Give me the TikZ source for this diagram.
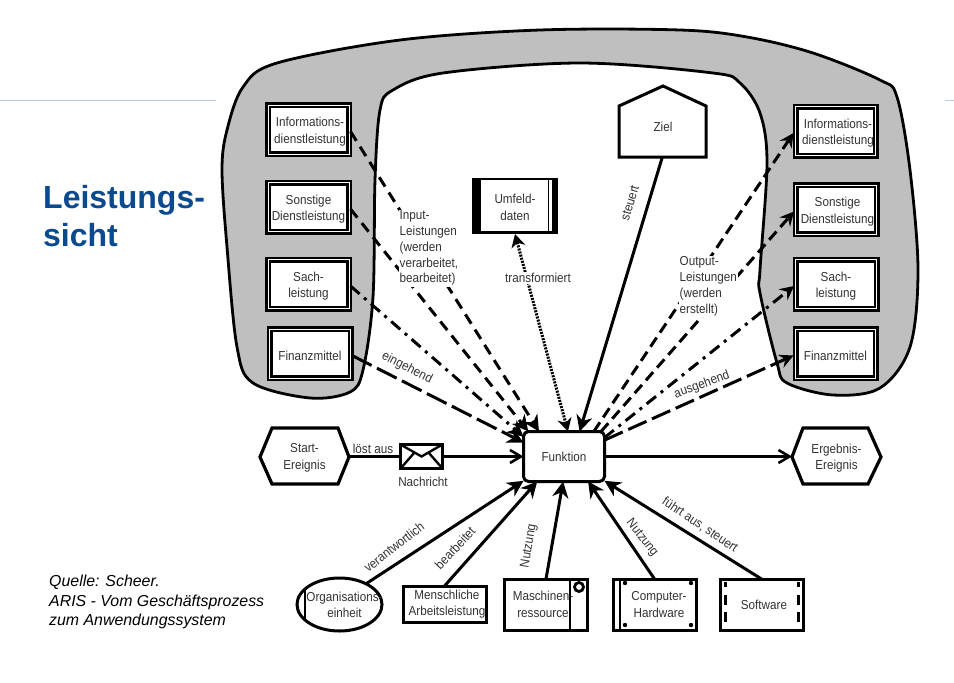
\documentclass[tikz,border=0pt]{standalone}
\usepackage{fontspec}
\setmainfont{Liberation Sans}
\newfontfamily\lblfont[FakeStretch=0.9]{Liberation Sans}
\usetikzlibrary{arrows.meta,shapes.geometric,calc}
\definecolor{txtgray}{HTML}{333333}
\definecolor{shade}{HTML}{BFBFBF}
\definecolor{ruleblue}{HTML}{B7CBE3}
\definecolor{headblue}{HTML}{0B4A8F}
\newcommand{\shft}[1]{\hspace*{#1pt}}
\tikzset{
  lbl/.style={font=\lblfont\fontsize{13}{16.6}\selectfont,text=txtgray,align=center,inner sep=0pt},
  frametop/.style={draw=black,line width=2.5pt,double=white,double distance=1pt,inner sep=0pt,outer sep=0pt},
  lstg/.style={lbl,fill=white,minimum width=84pt,minimum height=51pt,outer sep=0pt},
  conn/.style={line width=3pt,-{Stealth[length=16pt,width=16pt,inset=5pt]}},
  inA/.style={conn,dash pattern=on 11pt off 7pt},
  inDot/.style={conn,dash pattern=on 12pt off 6pt on 3pt off 6pt},
  inLong/.style={conn,dash pattern=on 22pt off 6pt},
  outA/.style={line width=3pt,-{Stealth[length=14pt,width=14pt,inset=5pt]},dash pattern=on 11pt off 6pt},
  outDot/.style={outA,dash pattern=on 12pt off 6pt on 3pt off 6pt},
  outLong/.style={outA,dash pattern=on 20pt off 6pt},
  dots/.style={line width=3pt,dash pattern=on 2pt off 1.2pt,{Stealth[length=13pt,width=14pt,inset=4pt]}-{Stealth[length=13pt,width=14pt,inset=4pt]}},
  flow/.style={line width=2.6pt,-{Straight Barb[length=11pt,width=13pt]}},
  sideitem/.style={lbl,fill=white,align=left,inner sep=1pt,font=\lblfont\fontsize{13}{15.8}\selectfont},
  shapebox/.style={lbl,draw=black,line width=3pt,fill=white,outer sep=0pt}
}
\newcommand{\lbox}[5]{%
  \node[lstg] (#1) at (#2,#3+2) {#4};
  \node[frametop,minimum width=#5,minimum height=49pt] at ($(#1.center)+(0,-2)$) {};
}
\begin{document}
\begin{tikzpicture}[x=1pt,y=-1pt]
\useasboundingbox (0,0) rectangle (954,683);
\fill[white] (0,0) rectangle (954,683);
\draw[ruleblue,line width=1pt] (0,100) -- (216,100);
\draw[ruleblue,line width=1pt] (945,100) -- (954,100);
% grey region
\draw[fill=shade,line width=2.8pt,line join=round] plot[smooth cycle,tension=0.55] coordinates {
 (680,30)(747,37)(813,53)(880,80)(897,97)(910,170)(918,270)(910,347)(880,388)(833,395)(787,383)(777,363)(760,293)(760,270)(767,163)(760,113)(740,83)(713,73)(580,63)(443,73)(393,90)(380,110)(375,180)(373,297)(363,370)(350,392)(310,398)(253,383)(237,347)(227,247)(222,170)(227,130)(243,87)(277,63)(400,40)(540,30)};
% left heading
\node[font=\bfseries\fontsize{32}{38.5}\selectfont,text=headblue,align=left,anchor=west,inner sep=0pt] (head) at (43,216) {Leistungs-\\sicht};
\node[font=\itshape\fontsize{15.9}{19.5}\selectfont,align=left,anchor=west,inner sep=0pt] (src) at (49,602) {Quelle: Scheer.\\ARIS - Vom Geschäftsprozess\\zum Anwendungssystem};
% boxes left
\lbox{il}{308.5}{129.5}{\shft{3}Informations-\\\shft{3}dienstleistung}{81pt}
\lbox{sl}{308.5}{207}{Sonstige\\Dienstleistung}{81pt}
\lbox{kl}{308.5}{284}{Sach-\\leistung}{81pt}
\lbox{fl}{310}{353.5}{Finanzmittel}{81pt}
% boxes right
\lbox{ir}{835.5}{131}{\shft{5}Informations-\\\shft{5}dienstleistung}{80pt}
\lbox{sr}{836}{209.5}{\shft{3}Sonstige\\\shft{3}Dienstleistung}{81pt}
\lbox{kr}{836}{284}{Sach-\\leistung}{81pt}
\lbox{fr}{835.5}{353.5}{Finanzmittel}{80pt}
% Umfeld
\node[lbl,fill=white,minimum width=84pt,minimum height=53pt,outer sep=0pt] (um) at (515,207.5) {Umfeld-\\daten};
\fill (472,178) rectangle (481,233);
\fill (552,178) rectangle (558,233);
\draw[line width=1pt] (548.5,179) -- (548.5,232);
\draw[line width=2.5pt] (472,179) -- (558,179) (472,232.5) -- (558,232.5);
% Ziel
\node[lbl,draw=black,line width=3pt,fill=white,minimum width=85pt,minimum height=69pt,outer sep=0pt] (zi) at (662.5,122) {};
\fill[white] (617,85) rectangle (708,104.5);
\draw[line width=3pt,line join=miter,fill=white] (619,157) -- (619,106) -- (663,86) -- (706,106) -- (706,157) -- cycle;
\node[lbl] (zt) at (663,127) {Ziel};
% Funktion
\node[shapebox,rounded corners=5pt,minimum width=81pt,minimum height=50pt] (fn) at (564,456.5) {Funktion};
% events
\node[lbl,minimum width=76pt,minimum height=56pt] (st) at (304.5,458) {Start-\\Ereignis};
\draw[line width=3.2pt,line join=miter] (260,457) -- (272,428) -- (338,428) -- (349,457) -- (338,484) -- (272,484) -- cycle;
\node[lbl,minimum width=76pt,minimum height=56pt] (er) at (836.5,458) {Ergebnis-\\Ereignis};
\draw[line width=3.2pt,line join=miter] (792,457) -- (803,428) -- (868,428) -- (881,457) -- (868,484) -- (803,484) -- cycle;
% message
\node[draw=black,line width=3.2pt,minimum width=42pt,minimum height=24pt,inner sep=0pt,outer sep=0pt] (msg) at (421.5,456.5) {};
\draw[line width=2.4pt] (msg.north west) -- (msg.center) -- (msg.north east);
\draw[line width=2.4pt] (msg.south west) -- ($(msg.center)+(-7,-4)$);
\draw[line width=2.4pt] (msg.south east) -- ($(msg.center)+(7,-4)$);
\node[lbl] (msgl) at (423,482) {Nachricht};
% bottom row
\node[draw=black,line width=3pt,fill=white,ellipse,minimum width=85pt,minimum height=53pt,inner sep=0pt,outer sep=0pt] (org) at (339.5,604.5) {};
\draw[line width=2.4pt] ($(org.center)+(-34.5,-15.5)$) -- ($(org.center)+(-34.5,15.5)$);
\node[lbl] (orgt) at (344.5,605) {Organisations-\\einheit};
\node[shapebox,minimum width=83pt,minimum height=36pt] (me) at (444.5,604) {\shft{5}Menschliche\\\shft{5}Arbeitsleistung};
\node[shapebox,minimum width=83pt,minimum height=51pt] (ma) at (546,604.5) {Maschinen-\shft{6}\\ressource\shft{6}};
\draw[line width=2.6pt] (570,578) -- (570,631);
\draw[line width=2.8pt] (579,587) circle (4.5pt);
\node[shapebox,minimum width=83pt,minimum height=51pt] (co) at (654.5,604.5) {\shft{9}Computer-\\\shft{9}Hardware};
\draw[line width=2.6pt] (620,578) -- (620,631);
\fill (625,583) circle (2.2pt) (691,583) circle (2.2pt) (625,625) circle (2.2pt) (691,625) circle (2.2pt);
\node[shapebox,minimum width=83pt,minimum height=51pt] (so) at (761.5,604.5) {\shft{5}Software};
\draw[line width=3pt] (725,582) -- (725,587) (725,595) -- (725,605) (725,612) -- (725,622) (798,582) -- (798,587) (798,595) -- (798,605) (798,612) -- (798,622);
% connectors in
\draw[inA] (il.east) -- (fn.135);
\draw[inA] (sl.east) -- (fn.145);
\draw[inDot] (kl.east) -- (fn.154);
\draw[inLong] (fl.east) -- (fn.161);
\draw[dots] (fn.81) -- (um.south);
\draw[conn] (zi.south) -- (fn.58);
% connectors out
\draw[outA] (fn.40) -- (ir.west);
\draw[outA] (fn.34) -- (sr.west);
\draw[outDot] (fn.25) -- (kr.west);
\draw[outLong] (fn.22) -- (fr.west);
% flow
\coordinate (stout) at (349,456.5);
\coordinate (erin) at (792,456.5);
\draw[line width=2.6pt] (stout) -- (msg.west);
\draw[flow] (msg.east) -- (fn.west);
\draw[flow] (fn.east) -- (erin);
% bottom connectors
\draw[conn] (org.38) -- (fn.211);
\draw[conn] (me.north) -- (fn.223);
\draw[conn] (ma.north) -- (fn.268);
\draw[conn] (co.north) -- (fn.314);
\draw[conn] (so.north) -- (fn.329);
% labels
\node[sideitem,anchor=north west] (ti) at (398.5,209.5) {Input-\\Leistungen\\(werden\\verarbeitet,\\bearbeitet)};
\node[sideitem,anchor=north west] (to) at (678.5,255.5) {Output-\\Leistungen\\(werden\\erstellt)};
\node[lbl,fill=white,inner sep=1pt] (tr) at (538,278) {transformiert};
\node[lbl,rotate=73] (l1) at (630,203) {steuert};
\node[lbl,rotate=-27] (l2) at (407,368) {eingehend};
\node[lbl,rotate=20] (l3) at (702,385) {ausgehend};
\node[lbl] (l4) at (373,449) {löst aus};
\node[lbl,rotate=38] (l5) at (394,547) {verantwortlich};
\node[lbl,rotate=47] (l6) at (455,548) {bearbeitet};
\node[lbl,rotate=80] (l7) at (529,546) {Nutzung};
\node[lbl,rotate=-52] (l8) at (642,538) {Nutzung};
\node[lbl,rotate=-34] (l9) at (700,525) {führt aus, steuert};
\end{tikzpicture}
\end{document}
